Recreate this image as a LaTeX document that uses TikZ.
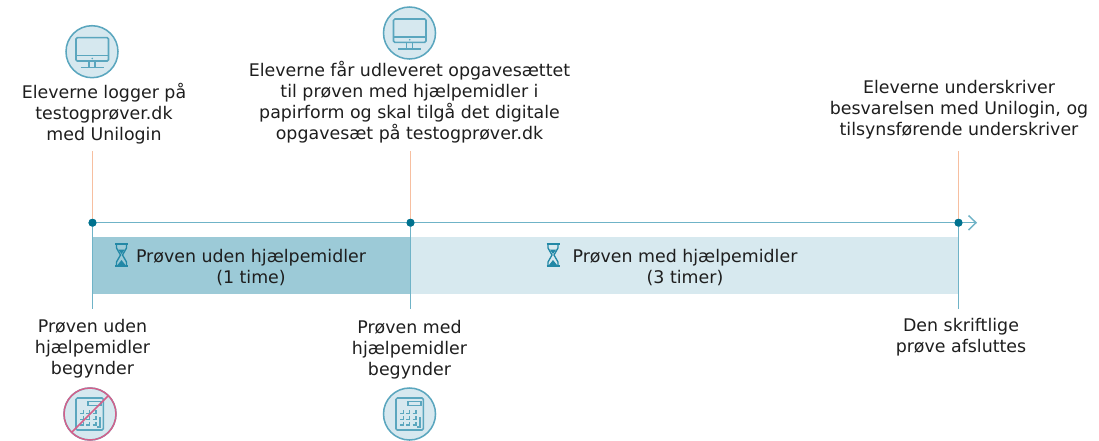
\documentclass[tikz,border=0pt]{standalone}
\usepackage{fontspec}
\setmainfont{DejaVu Sans}
\definecolor{barA}{HTML}{9CCAD7}
\definecolor{barB}{HTML}{D7E9EF}
\definecolor{tealline}{HTML}{6FB3C7}
\definecolor{iconline}{HTML}{5AA6BE}
\definecolor{dotc}{HTML}{00728F}
\definecolor{glass}{HTML}{2288A6}
\definecolor{orangeline}{HTML}{F7BFA0}
\definecolor{circfill}{HTML}{D6E8EF}
\definecolor{magentaline}{HTML}{D4608A}
\definecolor{txt}{HTML}{1E1E1E}
\tikzset{
  x=0.75pt,y=-0.75pt,
  lab/.style={align=center,inner sep=0pt,text=txt,font=\fontsize{13.05pt}{15.75pt}\selectfont},
  dotn/.style={circle,fill=dotc,minimum size=6pt,inner sep=0pt},
  upline/.style={orangeline,line width=1.1pt},
  downline/.style={tealline,line width=1.1pt},
  axisline/.style={tealline,line width=1.1pt},
  iconp/.style={iconline,line width=1.15pt},
  pics/monitor/.style={code={
    \draw[iconp,fill=circfill] (0,0) circle (26);
    \draw[iconp,rounded corners=1pt] (-16,-14) rectangle (16.5,9.3);
    \draw[iconp] (-16,4) -- (16.5,4);
    \fill[iconline] (0.2,6.8) circle (0.9);
    \draw[iconp] (-3,9.3) -- (-3,16) (3,9.3) -- (3,16) (-11.5,16) -- (11.5,16);
  }},
  pics/calcbody/.style={code={
    \draw[iconp,rounded corners=1pt] (-13.5,-16) rectangle (13.8,16);
    \draw[iconp] (-1.7,-12.3) rectangle (11.7,-8.3);
    \foreach \kx in {-9.4,-3.2,3.2}{\foreach \ky in {-0.5,5.3,11.2}{
      \draw[iconp] (\kx,\ky) -- (\kx+3.2,\ky) -- (\kx+3.2,\ky-3.2);
    }}
    \draw[iconp] (7.6,13) -- (10.7,13) -- (10.7,3);
  }},
  pics/hourglass/.style={code={
    \draw[glass,line width=1.2pt] (-6.5,-11) -- (6.5,-11) (-6.5,11) -- (6.5,11);
    \draw[glass,line width=1pt] (-5,-11) -- (-5,-7) -- (-1,0) -- (-5,7) -- (-5,11)
       (5,-11) -- (5,-7) -- (1,0) -- (5,7) -- (5,11);
    \fill[glass] (-3.2,-5.5) -- (3.2,-5.5) -- (0,-1) -- cycle;
    \fill[glass] (-4.4,10.5) -- (4.4,10.5) -- (0,5) -- cycle;
  }}
}
\begin{document}
\begin{tikzpicture}
\useasboundingbox (0,0) rectangle (1099,440);
\fill[barA] (92.5,237.3) rectangle (410.5,294);
\fill[barB] (410.5,237.3) rectangle (958.5,294);
\coordinate (u1) at (92.5,151);
\coordinate (u2) at (410.5,151);
\coordinate (u3) at (958.5,151);
\coordinate (d1) at (92.5,309);
\coordinate (d2) at (410.5,309);
\coordinate (d3) at (958.5,309);
\coordinate (end) at (976,222.7);
\node[dotn] (p1) at (92.5,222.7) {};
\node[dotn] (p2) at (410.5,222.7) {};
\node[dotn] (p3) at (958.5,222.7) {};
\draw[upline] (u1) -- (p1.center);
\draw[upline] (u2) -- (p2.center);
\draw[upline] (u3) -- (p3.center);
\draw[downline] (p1.center) -- (d1);
\draw[downline] (p2.center) -- (d2);
\draw[downline] (p3.center) -- (d3);
\draw[axisline] (p1.center) -- (end);
\draw[axisline] (968.5,215.5) -- (end) -- (968.5,230);
\node[dotn] at (p1) {};
\node[dotn] at (p2) {};
\node[dotn] at (p3) {};
\pic at (92,51.7) {monitor};
\pic at (409.5,33) {monitor};
\draw[iconp,fill=circfill] (90,414) circle (26);
\pic at (89.5,414) {calcbody};
\draw[magentaline,line width=1.1pt] (90,414) circle (26);
\draw[magentaline,line width=1.1pt] (71.5,432.5) -- (108.5,395.5);
\draw[iconp,fill=circfill] (409.5,414) circle (26);
\pic at (409.5,414) {calcbody};
\pic at (121.5,255) {hourglass};
\pic at (553,255) {hourglass};
\node[lab] (t1) at (104,114) {Eleverne logger på\\testogprøver.dk\\med Unilogin};
\node[lab] (t2) at (409.5,102.5) {Eleverne får udleveret opgavesættet\\til prøven med hjælpemidler i\\papirform og skal tilgå det digitale\\opgavesæt på testogprøver.dk};
\node[lab] (t3) at (959,110) {Eleverne underskriver\\besvarelsen med Unilogin, og\\tilsynsførende underskriver};
\node[lab] (t4) at (92.5,349) {Prøven uden\\hjælpemidler\\begynder};
\node[lab] (t5) at (409.5,349.5) {Prøven med\\hjælpemidler\\begynder};
\node[lab] (t6) at (961,337.5) {Den skriftlige\\prøve afsluttes};
\node[lab] (b1) at (251,267.5) {Prøven uden hjælpemidler\\(1 time)};
\node[lab] (b2) at (685,267.5) {Prøven med hjælpemidler\\(3 timer)};
\end{tikzpicture}
\end{document}
